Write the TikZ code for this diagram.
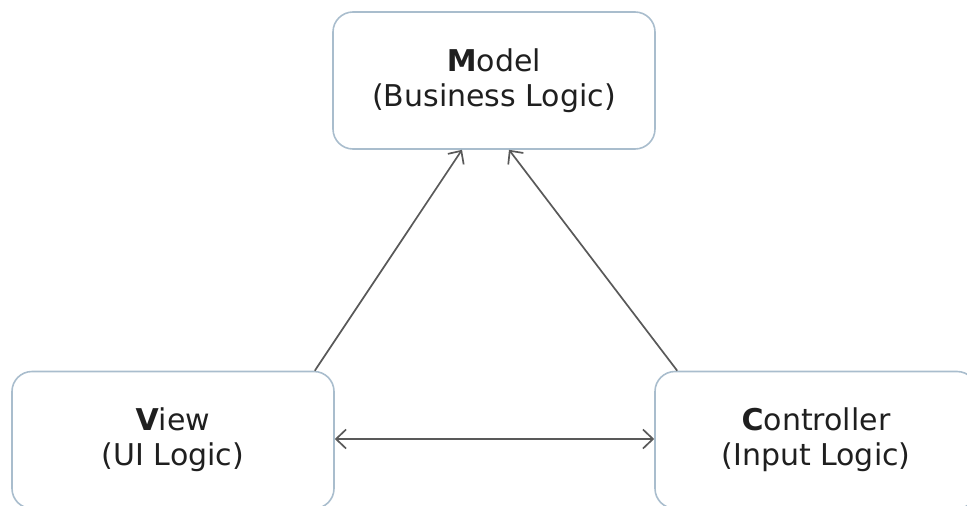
\documentclass[tikz,border=0pt]{standalone}
\usepackage{fontspec}
\setmainfont{DejaVu Sans}
\usetikzlibrary{arrows.meta}
\definecolor{boxline}{HTML}{A9BDCD}
\definecolor{arrline}{HTML}{595959}

\begin{document}
\begin{tikzpicture}[x=1pt, y=-1pt,
		part/.style={draw=boxline, line width=1.6pt, rounded corners=20pt, minimum width=322pt, minimum height=137pt, align=center, text=black!88, font=\fontsize{30}{35}\selectfont},
		link/.style={draw=arrline, line width=1.7pt},
		>={Straight Barb[length=10pt, width=19pt]}]
		\useasboundingbox (0,0) rectangle (967,506);
		\clip (0,0) rectangle (967,506);
		\node[part] (model) at (494,80.5) {\textbf{M}odel\\(Business Logic)};
		\node[part] (view) at (173,440) {\textbf{V}iew\\(UI Logic)};
		\node[part] (ctrl) at (816,440) {\textbf{C}ontroller\\(Input Logic)};
		\draw[link, ->] ([xshift=-20pt]view.north east) -- ([xshift=-32pt]model.south);
		\draw[link, ->] ([xshift=23pt]ctrl.north west) -- ([xshift=15pt]model.south);
		\draw[link, <->] ([yshift=1pt]view.east) -- ([yshift=1pt]ctrl.west);
	\end{tikzpicture}
\end{document}
